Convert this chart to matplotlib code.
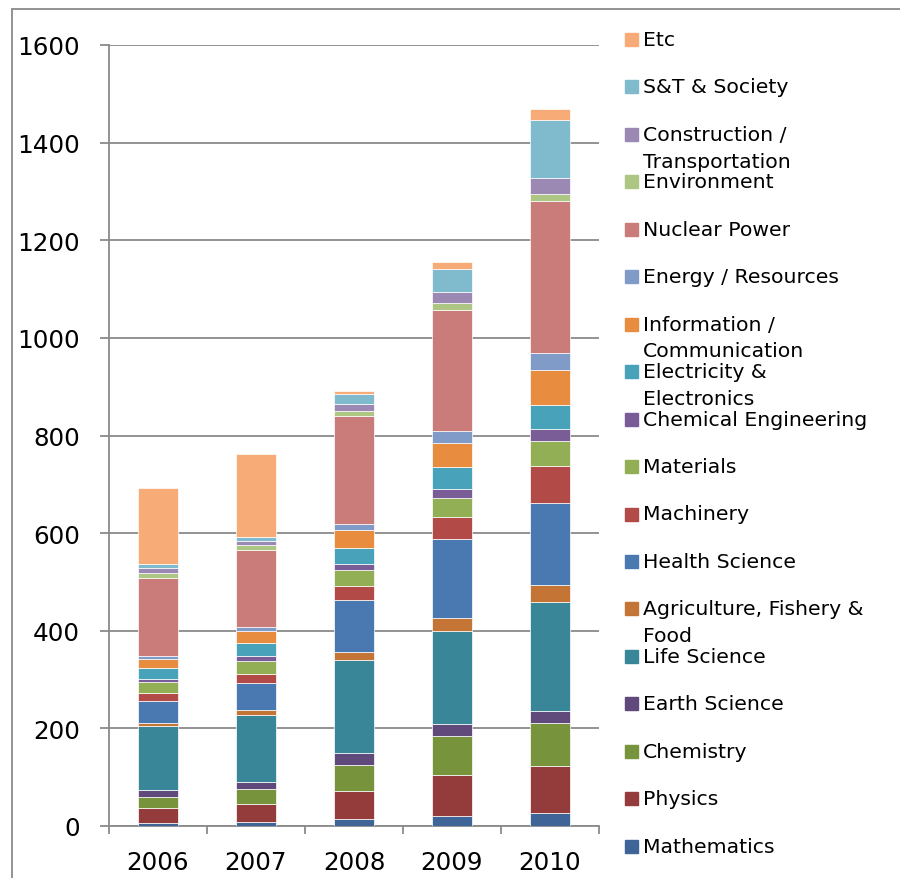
import matplotlib
matplotlib.use('Agg')
import matplotlib.pyplot as plt
import numpy as np
from matplotlib.patches import Rectangle

years = ['2006', '2007', '2008', '2009', '2010']

# values per field, stacked bottom -> top
mathematics = [6, 9, 14, 21, 27]
physics = [30, 37, 58, 83, 95]
chemistry = [24, 29, 53, 81, 90]
earth_science = [13, 15, 25, 24, 23]
life_science = [131, 137, 191, 190, 224]
agriculture = [8, 10, 16, 28, 34]
health_science = [44, 56, 105, 161, 168]
machinery = [16, 19, 29, 46, 77]
materials = [24, 27, 33, 37, 50]
chemical_eng = [6, 10, 12, 20, 26]
electricity = [22, 25, 33, 44, 49]
information = [18, 26, 38, 49, 71]
energy = [7, 8, 12, 26, 34]
nuclear = [160, 157, 221, 247, 312]
environment = [10, 10, 10, 15, 15]
construction = [9, 9, 14, 23, 32]
society = [9, 8, 22, 46, 120]
etc = [155, 170, 5, 14, 22]

series = [mathematics, physics, chemistry, earth_science, life_science,
          agriculture, health_science, machinery, materials, chemical_eng,
          electricity, information, energy, nuclear, environment,
          construction, society, etc]
labels = ['Mathematics', 'Physics', 'Chemistry', 'Earth Science',
          'Life Science', 'Agriculture, Fishery &\nFood', 'Health Science',
          'Machinery', 'Materials', 'Chemical Engineering',
          'Electricity &\nElectronics', 'Information /\nCommunication',
          'Energy / Resources', 'Nuclear Power', 'Environment',
          'Construction /\nTransportation', 'S&T & Society', 'Etc']
colors = ['#3F6598', '#943C3B', '#77933C', '#604A7B', '#3A8699',
          '#C47535', '#4A78B0', '#B24A48', '#92AF55', '#7A5C96',
          '#48A3BA', '#E88D40', '#809BC8', '#C97C7A', '#ADC683',
          '#9B88B3', '#7FBACD', '#F7AC78']

W, H = 900, 879
gray = '#8a8a8a'

fig = plt.figure(figsize=(9, 8.79), dpi=100)
ax = fig.add_axes([109 / W, 1 - 827 / H, 490 / W, 781 / H])

x = np.arange(len(years))
bottom = np.zeros(len(years))
for vals, col, lab in zip(series, colors, labels):
    ax.bar(x, vals, width=0.41, bottom=bottom, color=col,
           edgecolor='white', linewidth=0.5, zorder=3)
    bottom += np.array(vals)

ax.set_xlim(-0.5, len(years) - 0.5)
ax.set_ylim(0, 1600)
ax.set_yticks(np.arange(0, 1601, 200))
ax.set_xticks(x)
ax.set_xticklabels(years)
ax.set_xticks(np.arange(-0.5, len(years)), minor=True)
ax.grid(axis='y', color=gray, linewidth=1.3, zorder=0)
ax.set_axisbelow(True)

for s in ['top', 'right']:
    ax.spines[s].set_visible(False)
for s in ['left', 'bottom']:
    ax.spines[s].set_color(gray)
    ax.spines[s].set_linewidth(1.3)

ax.tick_params(axis='y', length=6.5, width=1.3, color=gray, pad=14.5,
               labelsize=17.7)
ax.tick_params(axis='x', which='major', length=0, pad=17, labelsize=17.7)
ax.tick_params(axis='x', which='minor', length=6, width=1.3, color=gray)

# legend drawn Excel-style: marker beside first line of each entry
for i, (lab, col) in enumerate(zip(labels[::-1], colors[::-1])):
    base = 46 + 47.45 * i
    fig.add_artist(Rectangle((625 / W, 1 - (base + 1) / H), 13 / W, 13 / H,
                             transform=fig.transFigure, color=col))
    for j, line in enumerate(lab.split('\n')):
        fig.text(643 / W, 1 - (base + 26.7 * j) / H, line, fontsize=14.7,
                 va='baseline', ha='left', color='black')

# outer chart frame (cut off at right and bottom)
fig.add_artist(Rectangle((12 / W, -0.1), 1.2, 1 - 10 / H + 0.1,
                         transform=fig.transFigure, fill=False,
                         edgecolor=gray, linewidth=1.3))

fig.savefig('out.png', dpi=100)
